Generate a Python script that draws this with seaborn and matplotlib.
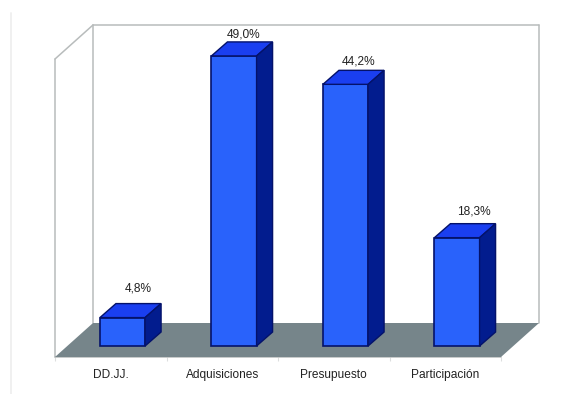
import matplotlib
matplotlib.use("Agg")
import matplotlib.pyplot as plt
from matplotlib.patches import Polygon
from matplotlib.lines import Line2D
import pandas as pd
import seaborn as sns

categories = ["DD.JJ.", "Adquisiciones", "Presupuesto", "Participación"]
values = [4.8, 49.0, 44.2, 18.3]
label_gaps_px = [29, 21, 23, 26]
label_shifts_px = [15.5, 10, 13.5, 16.5]

FRONT = "#2962fb"
TOP = "#1a3ff0"
SIDE = "#021c8e"
EDGE = "#04126a"
FLOOR = "#76858a"
WALL = "#b8bcbc"

W, H = 578, 394
PX_X = 111.5   # pixels per category slot
PX_Y = 5.92    # pixels per percentage point

sns.set_theme(style="white")
plt.rcParams["font.family"] = ["Liberation Sans", "DejaVu Sans"]

fig = plt.figure(figsize=(W / 100, H / 100), dpi=100, facecolor="white")
left, right, top, bottom = 55, 501, 59, 357
ax = fig.add_axes([left / W, 1 - bottom / H, (right - left) / W, (bottom - top) / H])

df = pd.DataFrame({"categoria": categories, "valor": values})
sns.barplot(data=df, x="categoria", y="valor", ax=ax, width=0.405, color=FRONT,
            saturation=1, edgecolor=EDGE, linewidth=1.2, zorder=4, clip_on=False)

x0 = -0.5 - 11.75 / PX_X
y0 = -11 / PX_Y
ymax = y0 + (bottom - top) / PX_Y
ax.set_xlim(x0, x0 + 4)
ax.set_ylim(y0, ymax)

# Oblique depth of the room and of each bar, in data units
room_dx, room_dy = 38 / PX_X, 34 / PX_Y
bar_dx, bar_dy = 16 / PX_X, 14 / PX_Y
x1 = x0 + 4

floor = Polygon([(x0, y0), (x1, y0), (x1 + room_dx, y0 + room_dy), (x0 + room_dx, y0 + room_dy)],
                closed=True, facecolor=FLOOR, edgecolor="none", zorder=2, clip_on=False)
ax.add_patch(floor)

wall_paths = [
    ([x0, x0], [y0, ymax]),
    ([x0, x0 + room_dx], [ymax, ymax + room_dy]),
    ([x0 + room_dx, x1 + room_dx], [ymax + room_dy, ymax + room_dy]),
    ([x0 + room_dx, x0 + room_dx], [y0 + room_dy, ymax + room_dy]),
    ([x1 + room_dx, x1 + room_dx], [y0 + room_dy, ymax + room_dy]),
    ([x0, x1], [y0, y0]),
]
for xs, ys in wall_paths:
    ax.add_line(Line2D(xs, ys, color=WALL, lw=1.1, zorder=1, clip_on=False))

half = 0.405 / 2
for i, v in enumerate(values):
    xl, xr = i - half, i + half
    ax.add_patch(Polygon([(xl, v), (xr, v), (xr + bar_dx, v + bar_dy), (xl + bar_dx, v + bar_dy)],
                         closed=True, facecolor=TOP, edgecolor=EDGE, lw=1.0, zorder=4, clip_on=False))
    ax.add_patch(Polygon([(xr, 0), (xr + bar_dx, bar_dy), (xr + bar_dx, v + bar_dy), (xr, v)],
                         closed=True, facecolor=SIDE, edgecolor=EDGE, lw=1.0, zorder=4, clip_on=False))
    ax.annotate(f"{v:.1f}".replace(".", ",") + "%",
                xy=(i + label_shifts_px[i] / PX_X, v), xytext=(0, label_gaps_px[i] * 0.72),
                textcoords="offset points", ha="center", va="center",
                fontsize=8.6, color="#222222", zorder=5, annotation_clip=False)

# Category labels sit on the front edge of the floor, between the tick marks
ax.set_xticks([i - 11.75 / PX_X for i in range(4)], categories)
ax.set_xticks([x0 + k for k in range(5)], minor=True)
ax.tick_params(axis="x", which="major", length=0, pad=8.5, labelsize=8.6, labelcolor="#222222")
ax.tick_params(axis="x", which="minor", length=3, width=0.8, color="#dcdede", bottom=True)
ax.set_yticks([])
ax.set_xlabel("")
ax.set_ylabel("")
sns.despine(ax=ax, left=True, bottom=True)

# Faint vertical rule along the left margin
fig.add_artist(Line2D([10.5 / W, 10.5 / W], [0, 1 - 13 / H], color="#efefef", lw=1.3))

fig.savefig("out.png", dpi=100, facecolor="white")
